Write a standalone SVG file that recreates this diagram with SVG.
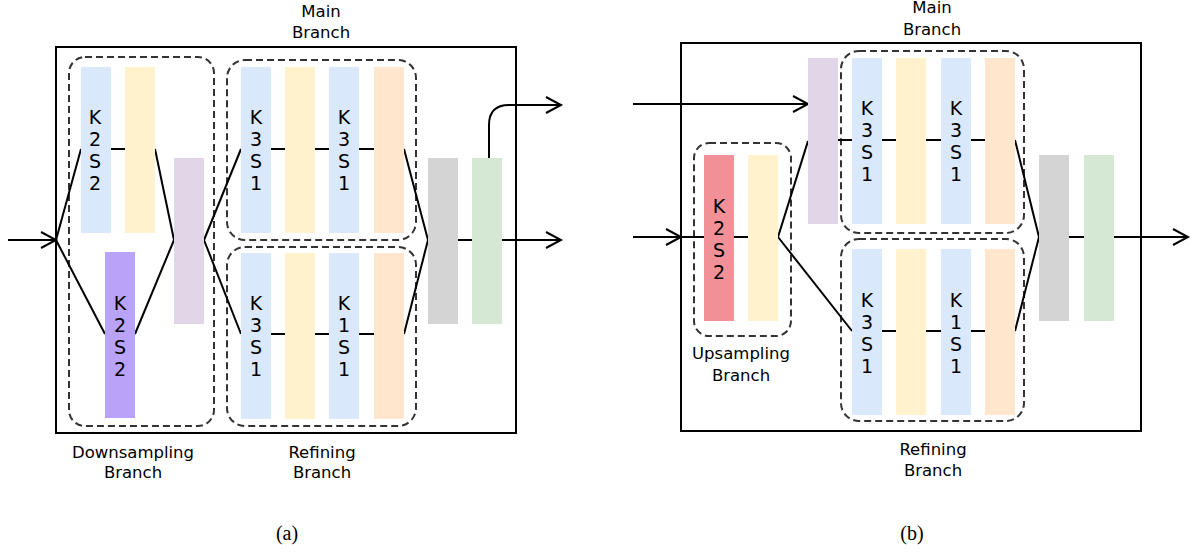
<svg xmlns="http://www.w3.org/2000/svg" width="1191" height="554" viewBox="0 0 1191 554">
<defs>
<marker id="arr" markerWidth="20" markerHeight="20" refX="16" refY="9" orient="auto" markerUnits="userSpaceOnUse">
<path d="M1,1 L16,9 L1,17" fill="none" stroke="#000" stroke-width="2"/>
</marker>
</defs>
<style>
.box{fill:none;stroke:#000;stroke-width:2}
.grp{fill:none;stroke:#333;stroke-width:2;stroke-dasharray:7 4}
.ln{fill:none;stroke:#000;stroke-width:2}
.blue{fill:#dae8fc}.yel{fill:#fff2cc}.pur{fill:#e1d5e7}.ora{fill:#ffe6cc}
.gry{fill:#d4d4d4}.grn{fill:#d5e8d4}.vio{fill:#b9a3f9}.red{fill:#f19197}
.bt{font-family:"DejaVu Sans",Verdana,sans-serif;font-size:19px;fill:#000;text-anchor:middle}
.lb{font-family:"DejaVu Sans",Verdana,sans-serif;font-size:16.5px;fill:#000;text-anchor:middle}
.cap{font-family:"Liberation Serif","Times New Roman",serif;font-size:20px;fill:#000;text-anchor:middle}
</style>

<!-- Panel (a) -->
<g id="a-frame"><rect class="box" x="56" y="47" width="460" height="386"/></g>
<g id="a-down-group"><rect class="grp" x="69" y="57" width="145" height="369" rx="16"/></g>
<g id="a-main-group"><rect class="grp" x="227" y="60" width="189" height="180" rx="18"/></g>
<g id="a-ref-group"><rect class="grp" x="227" y="247" width="189" height="179" rx="18"/></g>

<g id="a-connectors">
<line class="ln" x1="8" y1="240" x2="56" y2="240" marker-end="url(#arr)"/>
<line class="ln" x1="56" y1="240" x2="81" y2="149"/>
<line class="ln" x1="56" y1="240" x2="105" y2="334"/>
<line class="ln" x1="111" y1="149" x2="125" y2="149"/>
<line class="ln" x1="155" y1="149" x2="174" y2="240"/>
<line class="ln" x1="135" y1="334" x2="174" y2="240"/>
<line class="ln" x1="204" y1="240" x2="241" y2="149"/>
<line class="ln" x1="204" y1="240" x2="241" y2="334"/>
<line class="ln" x1="271" y1="149" x2="285" y2="149"/>
<line class="ln" x1="315" y1="149" x2="329" y2="149"/>
<line class="ln" x1="359" y1="149" x2="374" y2="149"/>
<line class="ln" x1="271" y1="334" x2="285" y2="334"/>
<line class="ln" x1="315" y1="334" x2="329" y2="334"/>
<line class="ln" x1="359" y1="334" x2="374" y2="334"/>
<line class="ln" x1="404" y1="149" x2="428" y2="240"/>
<line class="ln" x1="404" y1="334" x2="428" y2="240"/>
<line class="ln" x1="458" y1="240" x2="472" y2="240"/>
<line class="ln" x1="502" y1="240" x2="561" y2="240" marker-end="url(#arr)"/>
<path class="ln" d="M489,158 V125 Q489,105 509,105 H561" marker-end="url(#arr)"/>
</g>

<g id="a-k2s2-top"><rect class="blue" x="81" y="67" width="30" height="166"/>
<text class="bt" x="95" y="124">K</text><text class="bt" x="95" y="146">2</text><text class="bt" x="95" y="168">S</text><text class="bt" x="95" y="190">2</text></g>
<g id="a-yel-top"><rect class="yel" x="125" y="67" width="30" height="166"/></g>
<g id="a-k2s2-bot"><rect class="vio" x="105" y="252" width="30" height="166"/>
<text class="bt" x="120" y="310">K</text><text class="bt" x="120" y="332">2</text><text class="bt" x="120" y="354">S</text><text class="bt" x="120" y="376">2</text></g>
<g id="a-pur"><rect class="pur" x="174" y="158" width="30" height="166"/></g>

<g id="a-m-b1"><rect class="blue" x="241" y="67" width="30" height="166"/>
<text class="bt" x="256" y="124">K</text><text class="bt" x="256" y="146">3</text><text class="bt" x="256" y="168">S</text><text class="bt" x="256" y="190">1</text></g>
<g id="a-m-y"><rect class="yel" x="285" y="67" width="30" height="166"/></g>
<g id="a-m-b2"><rect class="blue" x="329" y="67" width="30" height="166"/>
<text class="bt" x="344" y="124">K</text><text class="bt" x="344" y="146">3</text><text class="bt" x="344" y="168">S</text><text class="bt" x="344" y="190">1</text></g>
<g id="a-m-o"><rect class="ora" x="374" y="67" width="30" height="166"/></g>

<g id="a-r-b1"><rect class="blue" x="241" y="253" width="30" height="166"/>
<text class="bt" x="256" y="310">K</text><text class="bt" x="256" y="332">3</text><text class="bt" x="256" y="354">S</text><text class="bt" x="256" y="376">1</text></g>
<g id="a-r-y"><rect class="yel" x="285" y="253" width="30" height="166"/></g>
<g id="a-r-b2"><rect class="blue" x="329" y="253" width="30" height="166"/>
<text class="bt" x="344" y="310">K</text><text class="bt" x="344" y="332">1</text><text class="bt" x="344" y="354">S</text><text class="bt" x="344" y="376">1</text></g>
<g id="a-r-o"><rect class="ora" x="374" y="253" width="30" height="166"/></g>

<g id="a-gray"><rect class="gry" x="428" y="158" width="30" height="166"/></g>
<g id="a-green"><rect class="grn" x="472" y="158" width="30" height="166"/></g>

<g id="a-labels">
<text class="lb" x="321" y="17">Main</text><text class="lb" x="321" y="38">Branch</text>
<text class="lb" x="133" y="458">Downsampling</text><text class="lb" x="133" y="478">Branch</text>
<text class="lb" x="322" y="458">Refining</text><text class="lb" x="322" y="478">Branch</text>
<text class="cap" x="287" y="540">(a)</text>
</g>

<!-- Panel (b) -->
<g id="b-frame"><rect class="box" x="681" y="43" width="460" height="388"/></g>
<g id="b-up-group"><rect class="grp" x="694" y="143" width="97" height="193" rx="15"/></g>
<g id="b-main-group"><rect class="grp" x="841" y="51" width="183" height="182" rx="18"/></g>
<g id="b-ref-group"><rect class="grp" x="841" y="239" width="183" height="182" rx="18"/></g>

<g id="b-connectors">
<line class="ln" x1="633" y1="104" x2="808" y2="104" marker-end="url(#arr)"/>
<line class="ln" x1="633" y1="237" x2="681" y2="237" marker-end="url(#arr)"/>
<line class="ln" x1="681" y1="237" x2="704" y2="237"/>
<line class="ln" x1="734" y1="237" x2="748" y2="237"/>
<line class="ln" x1="778" y1="237" x2="808" y2="141"/>
<line class="ln" x1="778" y1="237" x2="852" y2="331"/>
<line class="ln" x1="838" y1="140" x2="852" y2="140"/>
<line class="ln" x1="882" y1="140" x2="896" y2="140"/>
<line class="ln" x1="926" y1="140" x2="941" y2="140"/>
<line class="ln" x1="971" y1="140" x2="985" y2="140"/>
<line class="ln" x1="882" y1="331" x2="896" y2="331"/>
<line class="ln" x1="926" y1="331" x2="941" y2="331"/>
<line class="ln" x1="971" y1="331" x2="985" y2="331"/>
<line class="ln" x1="1015" y1="140" x2="1039" y2="237"/>
<line class="ln" x1="1015" y1="331" x2="1039" y2="237"/>
<line class="ln" x1="1069" y1="237" x2="1084" y2="237"/>
<line class="ln" x1="1114" y1="237" x2="1188" y2="237" marker-end="url(#arr)"/>
</g>

<g id="b-k2s2"><rect class="red" x="704" y="155" width="30" height="166"/>
<text class="bt" x="719" y="213">K</text><text class="bt" x="719" y="235">2</text><text class="bt" x="719" y="257">S</text><text class="bt" x="719" y="279">2</text></g>
<g id="b-up-y"><rect class="yel" x="748" y="155" width="30" height="166"/></g>
<g id="b-pur"><rect class="pur" x="808" y="58" width="30" height="166"/></g>

<g id="b-m-b1"><rect class="blue" x="852" y="58" width="30" height="166"/>
<text class="bt" x="867" y="115">K</text><text class="bt" x="867" y="137">3</text><text class="bt" x="867" y="159">S</text><text class="bt" x="867" y="181">1</text></g>
<g id="b-m-y"><rect class="yel" x="896" y="58" width="30" height="166"/></g>
<g id="b-m-b2"><rect class="blue" x="941" y="58" width="30" height="166"/>
<text class="bt" x="956" y="115">K</text><text class="bt" x="956" y="137">3</text><text class="bt" x="956" y="159">S</text><text class="bt" x="956" y="181">1</text></g>
<g id="b-m-o"><rect class="ora" x="985" y="58" width="30" height="166"/></g>

<g id="b-r-b1"><rect class="blue" x="852" y="249" width="30" height="166"/>
<text class="bt" x="867" y="307">K</text><text class="bt" x="867" y="329">3</text><text class="bt" x="867" y="351">S</text><text class="bt" x="867" y="373">1</text></g>
<g id="b-r-y"><rect class="yel" x="896" y="249" width="30" height="166"/></g>
<g id="b-r-b2"><rect class="blue" x="941" y="249" width="30" height="166"/>
<text class="bt" x="956" y="307">K</text><text class="bt" x="956" y="329">1</text><text class="bt" x="956" y="351">S</text><text class="bt" x="956" y="373">1</text></g>
<g id="b-r-o"><rect class="ora" x="985" y="249" width="30" height="166"/></g>

<g id="b-gray"><rect class="gry" x="1039" y="155" width="30" height="166"/></g>
<g id="b-green"><rect class="grn" x="1084" y="155" width="30" height="166"/></g>

<g id="b-labels">
<text class="lb" x="932" y="13">Main</text><text class="lb" x="932" y="35">Branch</text>
<text class="lb" x="741" y="359">Upsampling</text><text class="lb" x="741" y="381">Branch</text>
<text class="lb" x="933" y="455">Refining</text><text class="lb" x="933" y="476">Branch</text>
<text class="cap" x="912" y="540">(b)</text>
</g>
</svg>
